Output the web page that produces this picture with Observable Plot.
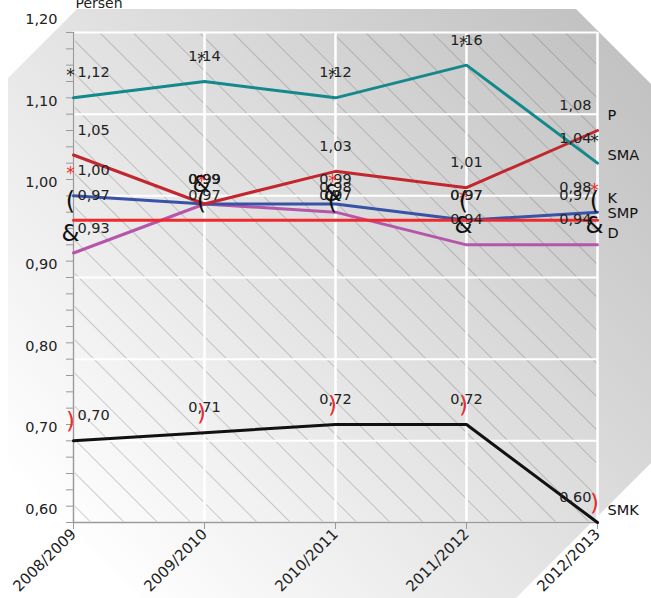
<!DOCTYPE html>
<html><head><meta charset="utf-8">
<script src="https://cdn.jsdelivr.net/npm/d3@7"></script>
<script src="https://cdn.jsdelivr.net/npm/@observablehq/plot@0.6"></script>
<style>body{margin:0;background:#fff;} #chart svg{display:block;}</style>
</head><body><div id="chart"></div>
<script>
// ---- data ----
const years = ["2008/2009", "2009/2010", "2010/2011", "2011/2012", "2012/2013"];
const seriesNames = ["P", "SMA", "K", "SMP", "D", "SMK"];
const valuesP   = [1.05, 0.99, 1.03, 1.01, 1.08];
const valuesSMA = [1.12, 1.14, 1.12, 1.16, 1.04];
const valuesK   = [1.00, 0.99, 0.99, 0.97, 0.98];
const valuesSMP = [0.97, 0.97, 0.97, 0.97, 0.97];
const valuesD   = [0.93, 0.99, 0.98, 0.94, 0.94];
const valuesSMK = [0.70, 0.71, 0.72, 0.72, 0.60];
const yTickValues = [0.60, 0.70, 0.80, 0.90, 1.00, 1.10, 1.20];
const yTickLabels = ["0,60", "0,70", "0,80", "0,90", "1,00", "1,10", "1,20"];
const yTitle = "Persen";

// ---- styles ----
const style = {
  P:   {color: "#c1272d", glyph: null, glyphColor: null, glyphSize: 0, glyphDy: 0, nameDy: -15},
  SMA: {color: "#13898b", glyph: "*", glyphColor: "#222", glyphSize: 17, glyphDy: -22, nameDy: -8},
  K:   {color: "#3853a6", glyph: "*", glyphColor: "#ee2a2e", glyphSize: 17, glyphDy: -22, nameDy: -14},
  SMP: {color: "#ee2a2e", glyph: "(", glyphColor: "#111", glyphSize: 24, glyphDy: -19, nameDy: -7},
  D:   {color: "#b656aa", glyph: "&", glyphColor: "#111", glyphSize: 23, glyphDy: -19, nameDy: -11},
  SMK: {color: "#111111", glyph: ")", glyphColor: "#ee2a2e", glyphSize: 23, glyphDy: -19, nameDy: -12}
};
const drawOrder = ["D", "K", "SMP", "P", "SMA", "SMK"];
const valuesBySeries = {P: valuesP, SMA: valuesSMA, K: valuesK, SMP: valuesSMP, D: valuesD, SMK: valuesSMK};

const rows = seriesNames.flatMap(s => years.map((y, i) => ({series: s, year: y, value: valuesBySeries[s][i], i})));
const fmt = v => v.toFixed(2).replace(".", ",");
const minorTicks = d3.range(0, 31).map(k => 0.6 + k * 0.02);
const last = years.length - 1;

const marks = [
  Plot.gridY(yTickValues, {stroke: "white", strokeOpacity: 1, strokeWidth: 2}),
  Plot.gridX(years, {stroke: "white", strokeOpacity: 1, strokeWidth: 2.5}),
  Plot.ruleX([years[0]], {stroke: "#9a9a9a", strokeWidth: 1.5}),
  Plot.ruleY([0.6], {stroke: "#9a9a9a", strokeWidth: 1.5}),
  Plot.axisY(minorTicks, {tickSize: 7, stroke: "#9a9a9a", tickFormat: () => "", label: null}),
  Plot.axisY(yTickValues, {tickSize: 0, tickPadding: 16, dy: -13, fontSize: 14.5, fill: "#222",
    tickFormat: d => yTickLabels[yTickValues.indexOf(d)], label: null}),
  Plot.axisX(years, {tickSize: 7, stroke: "#9a9a9a", tickRotate: -45, tickPadding: 2, fontSize: 15, fill: "#222", label: null}),
  Plot.text([yTitle], {frameAnchor: "top-left", dx: 2, dy: -25, lineAnchor: "bottom", textAnchor: "start", fontSize: 14, fill: "#222"})
];

for (const s of drawOrder) {
  marks.push(Plot.line(rows.filter(r => r.series === s), {x: "year", y: "value", stroke: style[s].color, strokeWidth: 3}));
}
// value labels
marks.push(
  Plot.text(rows.filter(r => r.i === 0), {x: "year", y: "value", text: d => fmt(d.value), dy: -25, dx: 4, textAnchor: "start", fontSize: 14.5, fill: "#222"}),
  Plot.text(rows.filter(r => r.i > 0 && r.i < last), {x: "year", y: "value", text: d => fmt(d.value), dy: -25, textAnchor: "middle", fontSize: 14.5, fill: "#222"}),
  Plot.text(rows.filter(r => r.i === last), {x: "year", y: "value", text: d => fmt(d.value), dy: -25, dx: -6, textAnchor: "end", fontSize: 14.5, fill: "#222"})
);
// glyph markers
for (const s of seriesNames) {
  const st = style[s];
  if (!st.glyph) continue;
  marks.push(Plot.text(rows.filter(r => r.series === s), {x: "year", y: "value", text: () => st.glyph, dy: st.glyphDy, dx: -3,
    fontSize: st.glyphSize, fill: st.glyphColor, fontFamily: "DejaVu Sans"}));
}
// series names
for (const s of seriesNames) {
  marks.push(Plot.text(rows.filter(r => r.series === s && r.i === last), {x: "year", y: "value", text: "series",
    dx: 10, dy: style[s].nameDy, textAnchor: "start", fontSize: 14.5, fill: "#111"}));
}

const chart = Plot.plot({
  width: 651, height: 598,
  marginTop: 32, marginBottom: 76, marginLeft: 73, marginRight: 54,
  style: {fontFamily: "DejaVu Sans", fontSize: "14px", background: "transparent", overflow: "visible"},
  x: {type: "point", domain: years, padding: 0},
  y: {domain: [0.6, 1.2]},
  marks
});
document.getElementById("chart").appendChild(chart);

// background panel + hatching
const svg = d3.select(chart);
const [x0, x1] = chart.scale("x").range;
const [yb, yt] = chart.scale("y").range;
const bg = svg.insert("g", ":first-child");
const defs = svg.insert("defs", ":first-child");
const grad = defs.append("linearGradient").attr("id", "bggrad").attr("gradientUnits", "userSpaceOnUse")
  .attr("x1", 0).attr("y1", 598).attr("x2", 651).attr("y2", 0);
grad.append("stop").attr("offset", 0.1).attr("stop-color", "#ffffff");
grad.append("stop").attr("offset", 0.5).attr("stop-color", "#e2e2e2");
grad.append("stop").attr("offset", 1).attr("stop-color", "#bdbdbd");
const pat = defs.append("pattern").attr("id", "hatch").attr("patternUnits", "userSpaceOnUse")
  .attr("width", 23.5).attr("height", 23.5).attr("patternTransform", "rotate(-45)");
pat.append("line").attr("x1", 0).attr("y1", 0).attr("x2", 0).attr("y2", 23.5).attr("stroke", "#555").attr("stroke-width", 0.8).attr("stroke-opacity", 0.7);
bg.append("polygon").attr("points", "77,9 576,9 651,84 651,463 516,598 140,598 8,466 8,78").attr("fill", "url(#bggrad)");
bg.append("rect").attr("x", x0).attr("y", yt).attr("width", x1 - x0).attr("height", yb - yt).attr("fill", "url(#hatch)");
</script>
</body></html>
